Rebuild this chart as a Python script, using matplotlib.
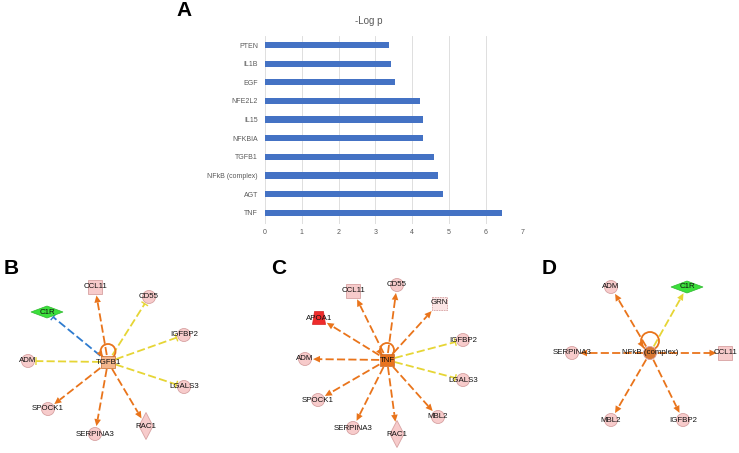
import matplotlib
matplotlib.use("Agg")
import matplotlib.pyplot as plt
import numpy as np
from matplotlib.patches import Circle, Polygon, Rectangle

plt.rcParams["font.family"] = ["Liberation Sans", "DejaVu Sans"]

# ---- panel A data ----
BAR_LABELS = ["TNF", "AGT", "NFkB (complex)", "TGFB1", "NFKBIA",
              "IL15", "NFE2L2", "EGF", "IL1B", "PTEN"]
BAR_VALUES = [6.44, 4.84, 4.70, 4.61, 4.31, 4.29, 4.22, 3.55, 3.44, 3.36]
BAR_TICKS = [0, 1, 2, 3, 4, 5, 6, 7]

# ---- network panels: hub, targets, layout (pixel coords), shape, edge kind ----
B_HUB = ("TGFB1", (108, 362), "hub_sq", "#F4B68C")
B_NAMES = ["CCL11", "CD55", "C1R", "IGFBP2", "ADM", "LGALS3", "SPOCK1", "SERPINA3", "RAC1"]
B_XY = [(95, 287), (149, 297), (47, 312), (184, 335), (28, 361),
        (184, 387), (48, 409), (95, 434), (146, 426)]
B_SHAPES = ["square", "circle", "hdiamond", "circle", "circle",
            "circle", "circle", "circle", "vdiamond"]
B_EDGES = ["act", "inc_bar", "inh", "inc_bar", "inc_bar", "inc_bar", "act", "act", "act"]

C_HUB = ("TNF", (387, 360), "hub_sq", "#E8731E")
C_NAMES = ["CCL11", "CD55", "GRN", "APOA1", "IGFBP2", "ADM", "LGALS3",
           "SPOCK1", "MBL2", "SERPINA3", "RAC1"]
C_XY = [(353, 291), (397, 285), (439, 303), (319, 318), (463, 340), (305, 359),
        (463, 380), (318, 400), (438, 417), (353, 428), (397, 434)]
C_SHAPES = ["square", "circle", "square_dash", "trap", "circle", "circle",
            "circle", "circle", "circle", "circle", "vdiamond"]
C_EDGES = ["act", "act", "act", "act", "inc_bar", "act", "inc_bar", "act", "act", "act", "act"]

D_HUB = ("NFkB (complex)", (650, 353), "hub_circ", "#D97834")
D_NAMES = ["ADM", "C1R", "SERPINA3", "CCL11", "MBL2", "IGFBP2"]
D_XY = [(611, 287), (687, 287), (572, 353), (725, 353), (611, 420), (683, 420)]
D_SHAPES = ["circle", "hdiamond", "circle", "square", "circle", "circle"]
D_EDGES = ["act", "inc_arrow", "act", "act", "act", "act"]

SPECIAL_FILL = {"C1R": "#3BE03B", "APOA1": "#EE2B2B", "GRN": "#FBE4E4"}

PINK = "#F7CBCB"
PINK_EDGE = "#D7A2A2"
ORANGE = "#E9741B"
YELLOW = "#E6D535"
BLUE = "#2E7BCF"
DASH = (0, (4.5, 1.8))
LW = 1.3


def extent(shape, u):
    dx, dy = abs(u[0]), abs(u[1])
    if shape in ("circle", "hub_circ"):
        return 6.5
    if shape in ("square", "square_dash"):
        return 7.0 / max(dx, dy, 1e-6)
    if shape == "hub_sq":
        return 1.0 / max(dx / 6.8, dy / 6.0)
    if shape == "hdiamond":
        return 1.0 / (dx / 16.0 + dy / 6.0)
    if shape == "vdiamond":
        return 1.0 / (dx / 7.0 + dy / 13.5)
    if shape == "trap":
        return 1.0 / max(dx / 6.5, dy / 6.5)
    return 6.5


def draw_node(ax, name, xy, shape, fill=None):
    x, y = xy
    fc = fill or SPECIAL_FILL.get(name, PINK)
    ec = PINK_EDGE
    if shape in ("circle", "hub_circ"):
        p = Circle((x, y), 6.5, fc=fc, ec=ec, lw=0.6)
    elif shape == "square":
        p = Rectangle((x - 7, y - 7), 14, 14, fc=fc, ec=ec, lw=0.6)
    elif shape == "square_dash":
        p = Rectangle((x - 7.5, y - 6.5), 15, 13, fc=fc, ec=ec, lw=0.6, ls=(0, (2, 1)))
    elif shape == "hub_sq":
        p = Rectangle((x - 6.8, y - 6.0), 13.6, 12.0, fc=fc, ec="#C86A2A", lw=0.5)
    elif shape == "hdiamond":
        p = Polygon([(x - 16, y), (x, y - 6), (x + 16, y), (x, y + 6)], fc=fc, ec="#2FB82F", lw=0.5)
    elif shape == "vdiamond":
        p = Polygon([(x - 7, y), (x, y - 13.5), (x + 7, y), (x, y + 13.5)], fc=fc, ec=ec, lw=0.6)
    elif shape == "trap":
        p = Polygon([(x - 6.5, y + 6.5), (x + 6.5, y + 6.5), (x + 4.5, y - 6.5), (x - 4.5, y - 6.5)],
                    fc=fc, ec="#D42020", lw=0.5)
    ax.add_patch(p)
    p.set_zorder(3)
    ax.text(x, y, name, ha="center", va="center", fontsize=5.7, color="#111111", zorder=5)


def draw_edge(ax, p0, p1, hub_shape, shape, kind):
    p0 = np.array(p0, float)
    p1 = np.array(p1, float)
    u = (p1 - p0) / np.linalg.norm(p1 - p0)
    n = np.array([-u[1], u[0]])
    start = p0 + u * (extent(hub_shape, u) + 1.0)
    end = p1 - u * (extent(shape, -u) + 1.5)
    color = {"act": ORANGE, "inc_bar": YELLOW, "inc_arrow": YELLOW, "inh": BLUE}[kind]
    if kind in ("act", "inc_arrow"):
        base = end - u * 7.0
        ax.plot([start[0], base[0]], [start[1], base[1]], color=color, lw=LW, ls=DASH, zorder=2)
        tri = Polygon([end, base + n * 3.3, base - n * 3.3], fc=color, ec="none", zorder=2)
        ax.add_patch(tri)
    else:
        ax.plot([start[0], end[0]], [start[1], end[1]], color=color, lw=LW, ls=DASH, zorder=2)
        ax.plot([end[0] + n[0] * 3.2, end[0] - n[0] * 3.2], [end[1] + n[1] * 3.2, end[1] - n[1] * 3.2],
                color=color, lw=1.0, zorder=2)


def draw_network(ax, hub, names, xys, shapes, edges, loop_r):
    hname, hxy, hshape, hfill = hub
    hx, hy = hxy
    for name, xy, shape, kind in zip(names, xys, shapes, edges):
        draw_edge(ax, hxy, xy, hshape, shape, kind)
    # self-regulation loop above the hub
    cy = hy - loop_r - 3.0
    ax.add_patch(Circle((hx, cy), loop_r, fc="none", ec=ORANGE, lw=LW, zorder=2))
    th = np.deg2rad(140)
    tip = np.array([hx + loop_r * np.cos(th), cy + loop_r * np.sin(th)])
    d = np.array([0.55, 0.83])
    nn = np.array([-d[1], d[0]])
    base = tip - d * 5.5
    ax.add_patch(Polygon([tip + d * 1.5, base + nn * 3.0, base - nn * 3.0], fc=ORANGE, ec="none", zorder=2))
    for name, xy, shape in zip(names, xys, shapes):
        draw_node(ax, name, xy, shape)
    draw_node(ax, hname, hxy, hshape, fill=hfill)


fig = plt.figure(figsize=(7.39, 4.53), dpi=100)

# ---- panel A: bar chart ----
ax = fig.add_axes([265 / 739, (453 - 223.9) / 453, 257.3 / 739, 188.2 / 453])
ax.barh(np.arange(len(BAR_VALUES)), BAR_VALUES, height=0.33, color="#4472C4", zorder=2)
ax.set_xlim(0, 7)
ax.set_ylim(-0.6, 9.5)
ax.set_xticks(BAR_TICKS)
ax.set_yticks(np.arange(len(BAR_LABELS)))
ax.set_yticklabels(BAR_LABELS)
ax.grid(axis="x", color="#D9D9D9", lw=0.6, zorder=0)
for s in ax.spines.values():
    s.set_visible(False)
ax.tick_params(length=0, labelsize=5, colors="#595959")
ax.tick_params(axis="y", pad=5)
ax.tick_params(axis="x", pad=4)
ax.patch.set_alpha(0)

# ---- overlay in pixel coordinates for titles and networks ----
net = fig.add_axes([0, 0, 1, 1])
net.set_xlim(0, 739)
net.set_ylim(453, 0)
net.axis("off")

net.text(369, 21, "-Log p", ha="center", va="center", fontsize=7, color="#595959")
for letter, (lx, ly) in zip("ABCD", [(184, 10), (11, 268), (279, 268), (549, 268)]):
    net.text(lx, ly, letter, ha="center", va="center", fontsize=15, fontweight="bold", color="black")

draw_network(net, B_HUB, B_NAMES, B_XY, B_SHAPES, B_EDGES, 7.5)
draw_network(net, C_HUB, C_NAMES, C_XY, C_SHAPES, C_EDGES, 7.0)
draw_network(net, D_HUB, D_NAMES, D_XY, D_SHAPES, D_EDGES, 9.0)

fig.savefig("out.png", dpi=100)
